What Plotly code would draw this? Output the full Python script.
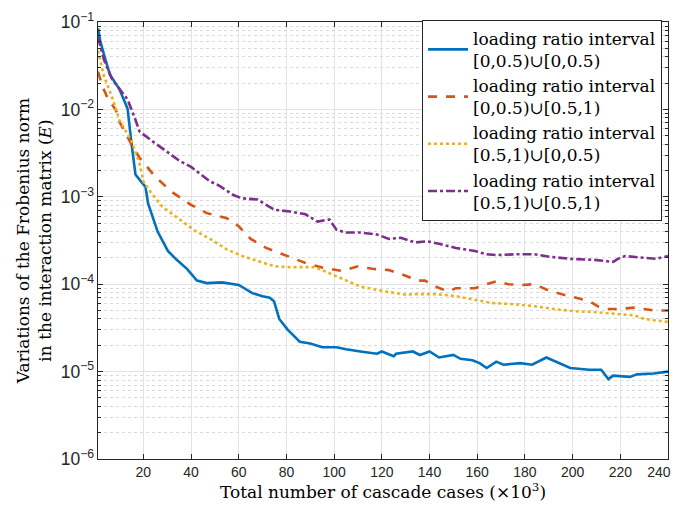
import plotly.graph_objects as go

# ---- data (x in thousands of cascade cases) ----
x_blue = [1, 2, 4, 6, 10, 13.4, 15, 16.7, 19, 20.9, 22, 26, 30.3, 34, 38.3, 42.5, 46.6, 53, 60,
          65.7, 70, 73, 74.8, 77, 80.6, 85.6, 90, 95, 101, 105, 111, 118, 120, 125, 126, 133,
          136, 140, 144, 150, 153, 158, 161, 164, 168, 171, 178, 183, 189, 194, 199, 207, 212,
          215, 217, 224, 227, 234, 240]
y_blue = [0.085, 0.06, 0.038, 0.025, 0.017, 0.0102, 0.0042, 0.0018, 0.0015, 0.0013, 0.00084,
          0.0004, 0.00024, 0.00019, 0.00015, 0.00011, 0.000103, 0.000105, 0.000098,
          7.9e-5, 7.3e-5, 7.0e-5, 6.4e-5, 4.0e-5, 3.0e-5, 2.2e-5, 2.1e-5, 1.9e-5, 1.9e-5,
          1.8e-5, 1.7e-5, 1.6e-5, 1.7e-5, 1.5e-5, 1.6e-5, 1.7e-5, 1.55e-5, 1.7e-5, 1.45e-5,
          1.55e-5, 1.4e-5, 1.35e-5, 1.25e-5, 1.1e-5, 1.3e-5, 1.2e-5, 1.25e-5, 1.2e-5, 1.45e-5,
          1.25e-5, 1.1e-5, 1.05e-5, 1.05e-5, 8.2e-6, 9.0e-6, 8.7e-6, 9.3e-6, 9.5e-6, 1.0e-5]

x_orange = [1, 3, 5, 8.5, 10, 15, 18.4, 25, 31.7, 40, 46.6, 55, 60, 65, 71.5, 80, 88, 95, 103,
            110, 116, 123, 130, 135, 138, 143, 148, 151, 159, 164, 168, 173, 179, 184, 189,
            196, 201, 207, 211, 214, 219, 226, 230, 234, 240]
y_orange = [0.027, 0.018, 0.0135, 0.0098, 0.0072, 0.004, 0.0028, 0.0017, 0.00115, 0.00081,
            0.00065, 0.00057, 0.00046, 0.00033, 0.00026, 0.00021, 0.000175, 0.000155, 0.000142,
            0.00016, 0.00015, 0.000145, 0.000125, 0.00011, 0.00011, 9.3e-5, 8.2e-5, 9.0e-5,
            9.0e-5, 1.0e-4, 1.08e-4, 1.0e-4, 9.8e-5, 1.0e-4, 8.7e-5, 7.6e-5, 7.0e-5, 6.4e-5,
            5.5e-5, 5.2e-5, 5.2e-5, 5.4e-5, 5.2e-5, 5.0e-5, 5.0e-5]

x_yellow = [1, 3.5, 7, 10, 15, 18.4, 20, 23.4, 28, 35, 41.6, 48, 55, 61.5, 68, 75, 81, 91.5, 95,
            100, 105, 111, 121, 130, 134, 143, 151, 159, 166, 176, 184, 192, 201, 209, 217,
            226, 230, 240]
y_yellow = [0.047, 0.024, 0.0135, 0.0075, 0.0044, 0.0024, 0.0015, 0.0011, 0.00077, 0.00055,
            0.00041, 0.00033, 0.00025, 0.00021, 0.000185, 0.00016, 0.000157, 0.000157,
            0.000145, 0.000127, 0.000112, 9.4e-5, 8.3e-5, 7.6e-5, 7.7e-5, 7.7e-5, 7.3e-5,
            6.7e-5, 6.1e-5, 5.9e-5, 5.6e-5, 5.2e-5, 4.9e-5, 4.8e-5, 4.6e-5, 4.4e-5, 4.0e-5,
            3.7e-5]

x_purple = [1, 3.5, 7, 10, 13.4, 16.7, 18.4, 23.4, 28, 35, 40, 48, 51.6, 58, 61.5, 68, 71.5,
            75, 81.5, 88, 93, 98, 101, 105, 111, 118, 123, 128, 134, 139, 144, 151, 159, 164,
            168, 176, 184, 191, 199, 209, 217, 219, 222, 230, 235, 240]
y_purple = [0.067, 0.037, 0.022, 0.017, 0.013, 0.0076, 0.0056, 0.0044, 0.0036, 0.0026, 0.0022,
            0.0015, 0.00135, 0.00104, 0.00096, 0.00093, 0.00081, 0.00071, 0.00068, 0.00063,
            0.00052, 0.00055, 0.00042, 0.00039, 0.00039, 0.00037, 0.00033, 0.00034, 0.0003,
            0.00031, 0.00029, 0.00026, 0.00024, 0.00022, 0.000215, 0.00022, 0.00022, 0.000205,
            0.000195, 0.00019, 0.00018, 0.000195, 0.00021, 0.0002, 0.000195, 0.00021]

names = [
    "loading ratio interval<br>[0,0.5)\u222a[0,0.5)",
    "loading ratio interval<br>[0,0.5)\u222a[0.5,1)",
    "loading ratio interval<br>[0.5,1)\u222a[0,0.5)",
    "loading ratio interval<br>[0.5,1)\u222a[0.5,1)",
]
x_ticks = [20, 40, 60, 80, 100, 120, 140, 160, 180, 200, 220, 240]
# last label padded with figure spaces so it stays inside the visible page
x_tick_labels = ["20", "40", "60", "80", "100", "120", "140", "160", "180", "200", "220",
                 "240\u2007\u2007\u2009"]

colors = ["#0072BD", "#D95319", "#EDB120", "#7E2F8E"]
dashes = ["solid", "dash", "dot", "dashdot"]
series = [(x_blue, y_blue), (x_orange, y_orange), (x_yellow, y_yellow), (x_purple, y_purple)]

fig = go.Figure()
for (xs, ys), nm, c, d in zip(series, names, colors, dashes):
    fig.add_trace(go.Scatter(x=xs, y=ys, mode="lines", name=nm,
                             line=dict(color=c, width=2.6, dash=d)))

serif = "DejaVu Serif"
sans = "Liberation Sans"
axcol = "#262626"

# the page body adds an 8px offset; keep the page from overflowing the 680x510 window
fig.update_layout(
    width=672, height=494,
    margin=dict(l=90, r=12, t=2, b=43),
    paper_bgcolor="white", plot_bgcolor="white",
    showlegend=True,
    legend=dict(
        x=0.9895, y=1.005, xanchor="right", yanchor="top",
        bgcolor="white", bordercolor=axcol, borderwidth=1,
        font=dict(family=serif, size=17, color="black"),
        itemwidth=40, tracegroupgap=0,
    ),
)
fig.update_xaxes(
    range=[1, 240], tickvals=x_ticks, ticktext=x_tick_labels, automargin=False,
    showline=True, linecolor=axcol, linewidth=1, mirror="ticks",
    ticks="inside", ticklen=5, tickcolor=axcol,
    showgrid=True, gridcolor="#e3e3e3", gridwidth=1,
    zeroline=False, ticklabeloverflow="allow",
    tickfont=dict(family=sans, size=14, color=axcol),
    title=dict(text="Total number of cascade cases (\u00d710<sup>3</sup>)",
               font=dict(family=serif, size=17, color="black"), standoff=2),
)
fig.update_yaxes(
    type="log", range=[-6, -1], dtick=1, exponentformat="power", showexponent="all",
    showline=True, linecolor=axcol, linewidth=1, mirror="ticks",
    ticks="inside", ticklen=5, tickcolor=axcol,
    showgrid=True, gridcolor="#e3e3e3", gridwidth=1,
    minor=dict(dtick="D1", ticks="inside", ticklen=3, tickcolor=axcol,
               showgrid=True, gridcolor="#dadada", griddash="dot", gridwidth=1),
    zeroline=False, ticklabeloverflow="allow",
    tickfont=dict(family=sans, size=14, color=axcol),
    title=dict(text="Variations of the Frobenius norm<br>in the interaction matrix (<i>E</i>)",
               font=dict(family=serif, size=17, color="black"), standoff=4),
)

fig.write_html("out.html")
